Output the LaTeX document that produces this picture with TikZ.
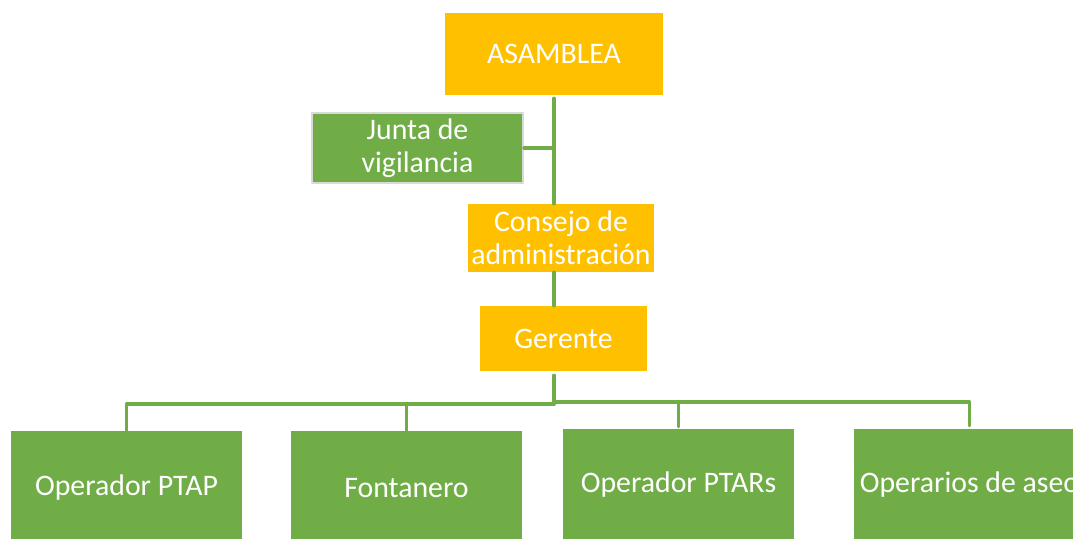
\documentclass[tikz,border=0pt]{standalone}
\usepackage{fontspec}
\setmainfont{Carlito}
\usepackage{tikz}
\usepackage{color}
\definecolor{ambar}{RGB}{255,192,0}
\definecolor{verde}{RGB}{112,173,71}
\definecolor{gris}{RGB}{217,217,217}

\begin{document}
\begin{tikzpicture}[line cap=round,line join=round,x=1.0pt,y=1.0pt,
    caja/.style={fill=#1,text=white,inner sep=0pt,align=center,font=\fontsize{29.8}{32.5}\selectfont},
    linea/.style={draw=verde,line width=3.2pt}]
        \useasboundingbox (0,0) rectangle (1073,538);
        \clip (0,0) rectangle (1073,538);
        % cargos de direccion
        \node[caja=ambar,minimum width=218,minimum height=82] (asamblea) at (554,484) {ASAMBLEA};
        \node[caja=verde,draw=gris,line width=2pt,minimum width=211,minimum height=70] (junta) at (417.5,390) {Junta de\\vigilancia};
        \node[caja=ambar,minimum width=186,minimum height=68] (consejo) at (561,300) {Consejo de\\administración};
        \node[caja=ambar,minimum width=167,minimum height=65] (gerente) at (563.5,199.5) {Gerente};
        % personal operativo
        \node[caja=verde,minimum width=231,minimum height=114] (ptap) at (126.5,50) {Operador PTAP};
        \node[caja=verde,minimum width=231,minimum height=114] (fontanero) at (406.5,50) {Fontanero};
        \node[caja=verde,minimum width=231,minimum height=112] (ptars) at (678.5,53) {Operador PTARs};
        \node[caja=verde,minimum width=231,minimum height=112] (aseo) at (969.5,53) {Operarios de aseo};
        \coordinate (nudo) at (554,134);
        \coordinate (nudo2) at (554,136);
        % conectores
        \draw[linea] ([yshift=-3pt]asamblea.south) -- (asamblea.south |- consejo.north);
        \draw[linea] (junta.east) -- (junta.east -| asamblea.south);
        \draw[linea] (asamblea.south |- consejo.south) -- (asamblea.south |- gerente.north);
        \draw[linea] ([yshift=-4pt]gerente.south -| nudo) -- (nudo);
        \draw[linea] (nudo) -| (ptap.north);
        \draw[linea] (nudo) -| (fontanero.north);
        \draw[linea] (nudo2) -| ([yshift=2pt]ptars.north);
        \draw[linea] (nudo2) -| ([yshift=3pt]aseo.north);
      \end{tikzpicture}
\end{document}
